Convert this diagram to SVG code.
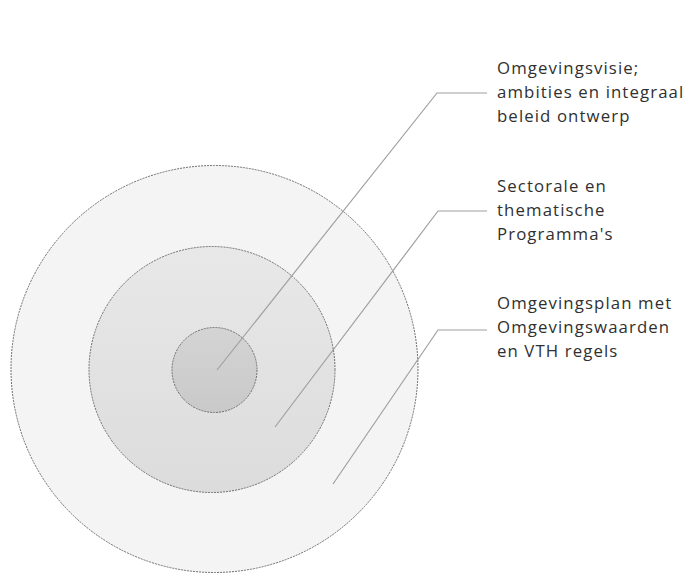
<svg xmlns="http://www.w3.org/2000/svg" width="688" height="574" viewBox="0 0 688 574">
<defs>
<linearGradient id="gMid" x1="0" y1="0" x2="0" y2="1">
<stop offset="0" stop-color="#e8e8e8"/><stop offset="1" stop-color="#dcdcdc"/>
</linearGradient>
<linearGradient id="gIn" x1="0" y1="0" x2="0" y2="1">
<stop offset="0" stop-color="#d4d4d4"/><stop offset="1" stop-color="#c9c9c9"/>
</linearGradient>
<style>
.ring{stroke:#6e6e6e;stroke-width:1;stroke-dasharray:2 1}
.lbl{font-family:"Open Sans","Noto Sans",sans-serif;font-size:16.8px;letter-spacing:1.1px;fill:#303030}
.con{fill:none;stroke:#a0a0a0;stroke-width:1.2}
</style>
</defs>
<rect width="688" height="574" fill="#ffffff"/>
<g id="outer"><circle class="ring" cx="214.5" cy="369" r="203.5" fill="#f4f4f4"/></g>
<g id="middle"><circle class="ring" cx="212" cy="369.5" r="123" fill="url(#gMid)"/></g>
<g id="inner"><circle class="ring" cx="214.5" cy="370" r="42.5" fill="url(#gIn)"/></g>
<g id="connectors">
<polyline class="con" points="217,370 437,93 487,93"/>
<polyline class="con" points="275,427 438,211 487,211"/>
<polyline class="con" points="333,484 438,330 487,330"/>
</g>
<g id="label1"><text class="lbl" x="497"><tspan x="497" y="74">Omgevingsvisie;</tspan><tspan x="497" y="98">ambities en integraal</tspan><tspan x="497" y="122">beleid ontwerp</tspan></text></g>
<g id="label2"><text class="lbl" x="497"><tspan x="497" y="192">Sectorale en</tspan><tspan x="497" y="216">thematische</tspan><tspan x="497" y="240">Programma's</tspan></text></g>
<g id="label3"><text class="lbl" x="497"><tspan x="497" y="309">Omgevingsplan met</tspan><tspan x="497" y="333">Omgevingswaarden</tspan><tspan x="497" y="357">en VTH regels</tspan></text></g>
</svg>
